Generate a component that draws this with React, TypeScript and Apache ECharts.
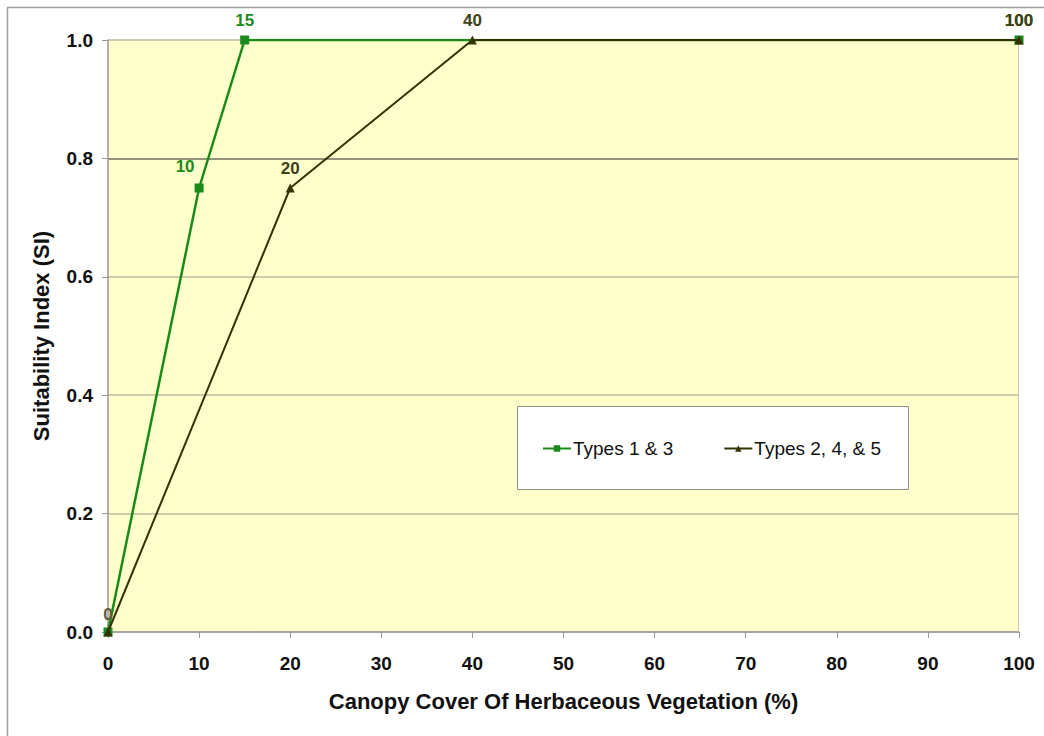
import React, { useEffect, useRef } from "react";
import * as echarts from "echarts";

const xTicks = [0, 10, 20, 30, 40, 50, 60, 70, 80, 90, 100];
const yTicks = [0, 0.2, 0.4, 0.6, 0.8, 1.0];
const types13X = [0, 10, 15, 100];
const types13Y = [0, 0.75, 1.0, 1.0];
const types245X = [0, 20, 40, 100];
const types245Y = [0, 0.75, 1.0, 1.0];
const seriesNames = ["Types 1 & 3", "Types 2, 4, & 5"];
const xTitle = "Canopy Cover Of Herbaceous Vegetation (%)";
const yTitle = "Suitability Index (SI)";

const FONT = "'Liberation Sans', Arial, sans-serif";
const GREEN = "#1a8a1a";
const OLIVE = "#333300";

export default function App() {
  const ref = useRef<HTMLDivElement>(null);
  useEffect(() => {
    if (!ref.current) return;
    const chart = echarts.init(ref.current, null, { renderer: "svg" });
    const d13 = types13X.map((x, i) => {
      const item: any = { value: [x, types13Y[i]] };
      if (x === 0) item.label = { show: false };
      if (x === 10) item.label = { offset: [-14, -2] };
      return item;
    });
    const d245 = types245X.map((x, i) => {
      const item: any = { value: [x, types245Y[i]] };
      if (x === 0) item.label = { color: "#5a5a40", offset: [0, 2] };
      return item;
    });
    chart.setOption({
      animation: false,
      backgroundColor: "#ffffff",
      textStyle: { fontFamily: FONT },
      grid: { left: 108, right: 25, top: 40, bottom: 104, show: true, backgroundColor: "#ffffcc", borderWidth: 0 },
      graphic: [
        {
          type: "rect",
          shape: { x: 7.5, y: 7.5, width: 1100, height: 800 },
          style: { fill: "none", stroke: "#a0a0a0", lineWidth: 1.5 },
          z: 100,
        },
        {
          type: "rect",
          shape: { x: 1018.5, y: 40, width: 0, height: 592 },
          style: { fill: "none", stroke: "#c8c8b0", lineWidth: 1 },
          z: 1,
        },
        {
          type: "rect",
          shape: { x: 517.5, y: 406.5, width: 391, height: 83 },
          style: { fill: "#ffffff", stroke: "#909090", lineWidth: 1 },
          z: 50,
        },
      ],
      legend: {
        data: seriesNames,
        left: 537,
        top: 434,
        itemGap: 50,
        itemWidth: 28,
        itemHeight: 8,
        z: 60,
        textStyle: { fontFamily: FONT, fontSize: 19, color: "#111", padding: [0, 0, 0, -3] },
      },
      xAxis: {
        type: "value",
        min: 0,
        max: 100,
        interval: 10,
        name: xTitle,
        nameLocation: "middle",
        nameGap: 58,
        nameTextStyle: { fontFamily: FONT, fontSize: 22, fontWeight: "bold", color: "#111" },
        axisLine: { show: true, onZero: false, lineStyle: { color: "#999999", width: 1.5 } },
        axisTick: { show: true, length: 6, lineStyle: { color: "#999999" } },
        axisLabel: { fontFamily: FONT, fontSize: 19, fontWeight: "bold", color: "#111", margin: 22 },
        splitLine: { show: false },
      },
      yAxis: {
        type: "value",
        min: 0,
        max: 1,
        interval: 0.2,
        name: yTitle,
        nameLocation: "middle",
        nameGap: 56,
        nameTextStyle: { fontFamily: FONT, fontSize: 22, fontWeight: "bold", color: "#111" },
        axisLine: { show: true, lineStyle: { color: "#999999", width: 1.5 } },
        axisTick: { show: true, length: 6, lineStyle: { color: "#999999" } },
        axisLabel: {
          fontFamily: FONT,
          fontSize: 19,
          fontWeight: "bold",
          color: "#111",
          margin: 15,
          formatter: (v: number) => v.toFixed(1),
        },
        splitLine: {
          show: true,
          lineStyle: { color: ["#bdbba0", "#bdbba0", "#bdbba0", "#bdbba0", "#6f6f60", "#bdbba0"], width: 1.5 },
        },
      },
      series: [
        {
          name: seriesNames[0],
          type: "line",
          data: d13,
          symbol: "rect",
          symbolSize: 9,
          itemStyle: { color: GREEN },
          lineStyle: { color: GREEN, width: 2.5 },
          label: {
            show: true,
            position: "top",
            distance: 7,
            fontFamily: FONT,
            fontSize: 17,
            fontWeight: "bold",
            color: GREEN,
            formatter: (p: any) => String(p.value[0]),
          },
          z: 3,
        },
        {
          name: seriesNames[1],
          type: "line",
          data: d245,
          symbol: "triangle",
          symbolSize: 9,
          itemStyle: { color: OLIVE },
          lineStyle: { color: OLIVE, width: 2 },
          label: {
            show: true,
            position: "top",
            distance: 7,
            fontFamily: FONT,
            fontSize: 17,
            fontWeight: "bold",
            color: "#40401a",
            formatter: (p: any) => String(p.value[0]),
          },
          z: 4,
        },
      ],
    });
    return () => chart.dispose();
  }, []);
  return (
    <div
      ref={ref}
      style={{ position: "fixed", left: 0, top: 0, width: 1044, height: 736 }}
    />
  );
}
